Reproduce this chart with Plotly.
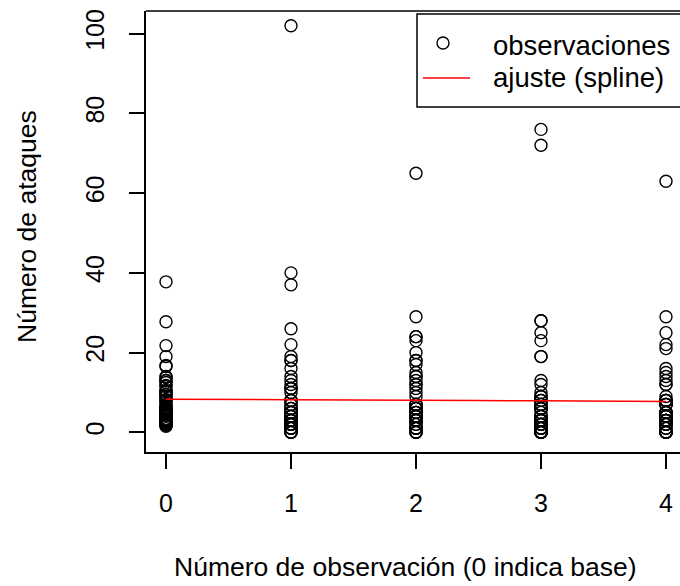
import plotly.graph_objects as go

# Ataques por paciente (59 pacientes): base (por periodo de 2 semanas) y periodos 1-4
base = [2.75, 2.75, 1.5, 2, 16.5, 6.75, 3, 13, 5.75, 2.5, 13, 8.25, 4.5, 10.5, 21.75,
        12.5, 4.5, 27.75, 4.5, 5, 3, 2.25, 4.25, 7, 13.75, 2.25, 2.5, 11.75, 19, 9.5,
        4.75, 2.5, 4.75, 6, 7.75, 3.5, 2.75, 16.75, 10.25, 1.75, 5.5, 3.25, 11.5, 9,
        9.5, 1.75, 9, 2.75, 37.75, 5.5, 10.25, 8, 14, 6, 4, 5.5, 6.25, 3.25, 3]
y1 = [5, 3, 2, 4, 7, 5, 6, 40, 5, 14, 26, 12, 4, 7, 16, 11, 0, 37, 3, 3, 3, 3, 2, 8, 18,
      2, 3, 13, 11, 8, 0, 3, 2, 4, 22, 5, 2, 3, 4, 2, 0, 5, 11, 10, 19, 1, 6, 2, 102, 4,
      8, 1, 18, 6, 3, 1, 2, 0, 1]
y2 = [3, 5, 4, 4, 18, 2, 4, 20, 6, 13, 12, 6, 4, 9, 24, 0, 0, 29, 5, 0, 4, 4, 3, 12, 24,
      1, 1, 15, 14, 7, 4, 6, 6, 3, 17, 4, 4, 7, 18, 1, 2, 4, 14, 5, 7, 1, 10, 1, 65, 3,
      6, 3, 11, 3, 5, 23, 3, 0, 4]
y3 = [3, 3, 0, 1, 9, 8, 0, 23, 6, 6, 6, 8, 6, 12, 10, 0, 3, 28, 2, 6, 3, 3, 3, 2, 76,
      2, 4, 13, 9, 9, 3, 1, 7, 1, 19, 7, 0, 7, 2, 1, 4, 0, 25, 3, 6, 2, 8, 0, 72, 2,
      5, 1, 28, 4, 4, 19, 0, 0, 3]
y4 = [3, 3, 5, 4, 21, 7, 2, 12, 5, 0, 22, 4, 2, 14, 9, 5, 3, 29, 5, 7, 4, 4, 5, 8, 25,
      1, 2, 12, 8, 4, 0, 3, 4, 3, 16, 4, 4, 7, 5, 0, 0, 3, 15, 8, 7, 3, 8, 0, 63, 4,
      7, 5, 13, 0, 3, 8, 1, 0, 2]

periodos = [0, 1, 2, 3, 4]
series = [base, y1, y2, y3, y4]

# Ajuste suavizado (spline) evaluado en cada periodo
ajuste_x = [0, 1, 2, 3, 4]
ajuste_y = [8.3, 8.2, 8.05, 7.9, 7.75]

x_ticks = [0, 1, 2, 3, 4]
y_ticks = [0, 20, 40, 60, 80, 100]

FONT = "Liberation Sans, Arial, Helvetica, sans-serif"
FS_TICK = 25
FS_TITLE = 26.5
FS_LEG = 27.5

W, H = 680, 586
L, R, T, B = 146, 0, 11, 134
PW, PH = W - L - R, H - T - B


def px_x(px):
    return (px - L) / PW


def px_y(py):
    return (H - B - py) / PH


xs, ys = [], []
for p, vals in zip(periodos, series):
    xs += [p] * len(vals)
    ys += vals

fig = go.Figure()
fig.add_trace(go.Scatter(
    x=xs, y=ys, mode="markers",
    marker=dict(symbol="circle-open", size=12, color="black",
                line=dict(color="black", width=1.4)),
    showlegend=False, hoverinfo="x+y"))
fig.add_trace(go.Scatter(
    x=ajuste_x, y=ajuste_y, mode="lines",
    line=dict(color="red", width=1.5, shape="spline"),
    showlegend=False))

axis_common = dict(showgrid=False, zeroline=False, showline=True, linecolor="black",
                   linewidth=1.5, ticks="outside", ticklen=15, tickwidth=1.5,
                   tickcolor="black", tickfont=dict(family=FONT, size=FS_TICK, color="black"))

fig.update_xaxes(range=[-0.16, 4.112], tickvals=x_ticks,
                 ticktext=[str(v) for v in x_ticks], ticklabelstandoff=13, **axis_common)
fig.update_yaxes(range=[-4.94, 105.7], tickvals=y_ticks,
                 ticktext=[str(v) for v in y_ticks], tickangle=-90,
                 ticklabelstandoff=15, **axis_common)

shapes = [
    # borde superior del recuadro
    dict(type="line", xref="paper", yref="paper", x0=0, x1=1.02, y0=1, y1=1,
         line=dict(color="black", width=1.5)),
    # recuadro de la leyenda
    dict(type="rect", xref="paper", yref="paper",
         x0=px_x(417), x1=px_x(700), y0=px_y(107), y1=px_y(14),
         line=dict(color="black", width=1.5), fillcolor="white", layer="above"),
    # muestra de la línea roja en la leyenda
    dict(type="line", xref="paper", yref="paper",
         x0=px_x(423), x1=px_x(470), y0=px_y(78), y1=px_y(78),
         line=dict(color="red", width=1.5), layer="above"),
    # muestra del círculo en la leyenda
    dict(type="circle", xref="paper", yref="paper",
         x0=px_x(443 - 6), x1=px_x(443 + 6), y0=px_y(43 + 6), y1=px_y(43 - 6),
         line=dict(color="black", width=1.4), layer="above"),
]

annotations = [
    dict(text="observaciones", xref="paper", yref="paper", x=px_x(491), y=px_y(45),
         xanchor="left", yanchor="middle", showarrow=False,
         font=dict(family=FONT, size=FS_LEG, color="black")),
    dict(text="ajuste (spline)", xref="paper", yref="paper", x=px_x(491), y=px_y(78),
         xanchor="left", yanchor="middle", showarrow=False,
         font=dict(family=FONT, size=FS_LEG, color="black")),
    dict(text="Número de observación (0 indica base)", xref="paper", yref="paper",
         x=px_x(405), y=px_y(567), xanchor="center", yanchor="middle", showarrow=False,
         font=dict(family=FONT, size=FS_TITLE, color="black")),
    dict(text="Número de ataques", xref="paper", yref="paper",
         x=px_x(27), y=px_y(227), xanchor="center", yanchor="middle", showarrow=False,
         textangle=-90, font=dict(family=FONT, size=FS_TITLE, color="black")),
]

fig.update_layout(
    width=W, height=H,
    margin=dict(l=L, r=R, t=T, b=B, pad=0),
    paper_bgcolor="white", plot_bgcolor="white",
    font=dict(family=FONT, size=FS_TICK, color="black"),
    shapes=shapes, annotations=annotations,
    showlegend=False,
)

fig.write_html("out.html")
